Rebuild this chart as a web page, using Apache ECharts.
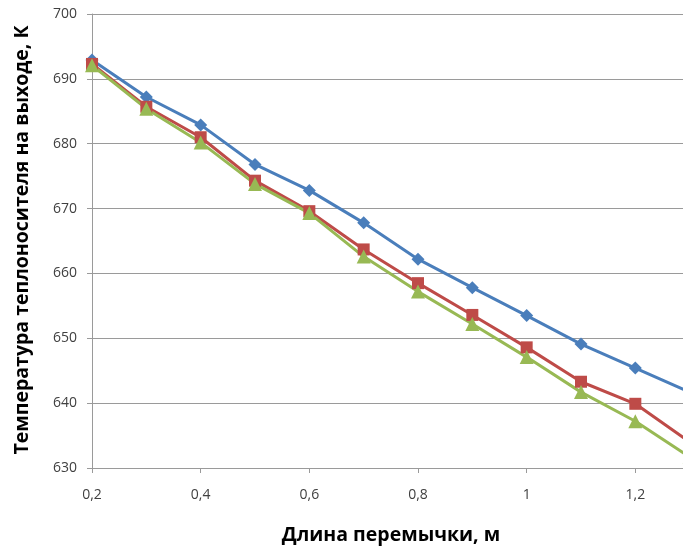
<!DOCTYPE html>
<html><head><meta charset="utf-8">
<script src="https://cdn.jsdelivr.net/npm/echarts@6/dist/echarts.min.js"></script>
<style>html,body{margin:0;padding:0;background:#fff;overflow:hidden;width:683px;height:548px;}#c{width:780px;height:548px;}</style>
</head><body><div id="c"></div>
<script>
const xValues = [0.2, 0.3, 0.4, 0.5, 0.6, 0.7, 0.8, 0.9, 1.0, 1.1, 1.2, 1.3];
const seriesBlue  = [692.9, 687.2, 682.9, 676.8, 672.8, 667.8, 662.2, 657.8, 653.5, 649.1, 645.4, 641.7];
const seriesRed   = [692.3, 685.7, 681.0, 674.3, 669.6, 663.7, 658.5, 653.6, 648.6, 643.3, 639.9, 634.0];
const seriesGreen = [692.1, 685.4, 680.2, 673.8, 669.3, 662.6, 657.2, 652.2, 647.1, 641.7, 637.2, 631.7];
const yTitle = 'Температура теплоносителя на выходе, К';
const xTitle = 'Длина перемычки, м';

const pair = arr => xValues.map((x, i) => [x, arr[i]]);
const chart = echarts.init(document.getElementById('c'), null, {renderer: 'canvas'});
const lbl = {color: '#404040', fontFamily: 'Open Sans', fontSize: 14};
chart.setOption({
  animation: false,
  grid: {left: 92, top: 14, bottom: 80, right: 36, containLabel: false},
  xAxis: {
    type: 'value', min: 0.2, max: 1.4, interval: 0.2,
    axisLine: {lineStyle: {color: '#9a9a9a', width: 1}},
    axisTick: {show: true, length: 5, lineStyle: {color: '#9a9a9a'}},
    splitLine: {show: false},
    axisLabel: Object.assign({margin: 20, formatter: v => String(Math.round(v*10)/10).replace('.', ',')}, lbl)
  },
  yAxis: {
    type: 'value', min: 630, max: 700, interval: 10,
    axisLine: {show: true, lineStyle: {color: '#9a9a9a', width: 1}},
    axisTick: {show: true, length: 5, lineStyle: {color: '#9a9a9a'}},
    splitLine: {lineStyle: {color: '#9a9a9a', width: 1}},
    axisLabel: Object.assign({margin: 15}, lbl)
  },
  series: [
    {type: 'line', data: pair(seriesBlue), symbol: 'diamond', symbolSize: 13,
     lineStyle: {color: '#4a7ebb', width: 3}, itemStyle: {color: '#4a7ebb'}},
    {type: 'line', data: pair(seriesRed), symbol: 'rect', symbolSize: 12,
     lineStyle: {color: '#be4b48', width: 3}, itemStyle: {color: '#be4b48'}},
    {type: 'line', data: pair(seriesGreen), symbol: 'triangle', symbolSize: 14,
     lineStyle: {color: '#98b954', width: 3}, itemStyle: {color: '#98b954'}}
  ],
  graphic: [
    {type: 'text', x: 22, y: 240, rotation: Math.PI/2,
     style: {text: yTitle, fontFamily: 'Open Sans', fontWeight: 'bold', fontSize: 19.5, fill: '#000',
       align: 'center', verticalAlign: 'middle'}},
    {type: 'text', x: 391, y: 535,
     style: {text: xTitle, fontFamily: 'Open Sans', fontWeight: 'bold', fontSize: 19.5, fill: '#000',
       align: 'center', verticalAlign: 'middle'}}
  ]
});
</script></body></html>
